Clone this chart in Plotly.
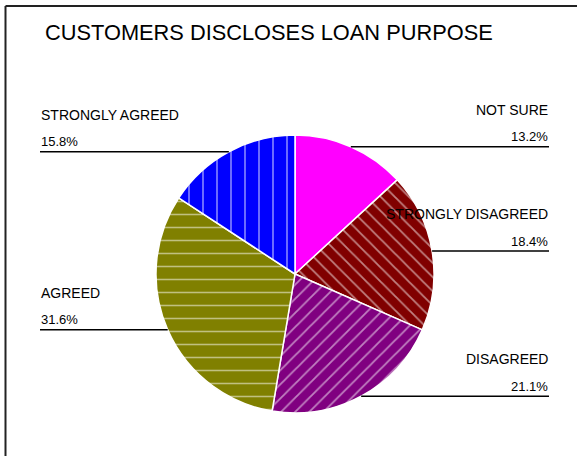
import math
import plotly.graph_objects as go

# Survey responses: customers disclose loan purpose
labels = ["NOT SURE", "STRONGLY DISAGREED", "DISAGREED", "AGREED", "STRONGLY AGREED"]
counts = [5, 7, 8, 12, 6]
colors = ["#FF00FF", "#800000", "#800080", "#808000", "#0000FF"]
patterns = ["", "\\", "/", "-", "|"]
label_side = ["right", "right", "right", "left", "left"]

W, H = 577, 456
FONT = "Liberation Sans, Arial, sans-serif"

# pie geometry in pixels
cx, cy, r = 295, 274, 139
right_edge_px, left_edge_px = 549, 40


def px_x(x):
    return x / W


def px_y(y):
    return 1 - y / H


total = sum(counts)
pcts = [c / total * 100 for c in counts]

fig = go.Figure(go.Pie(
    labels=labels,
    values=counts,
    sort=False,
    direction="clockwise",
    rotation=0,
    textinfo="none",
    hoverinfo="label+percent",
    showlegend=False,
    domain=dict(x=[px_x(cx - r), px_x(cx + r)], y=[px_y(cy + r), px_y(cy - r)]),
    marker=dict(
        colors=colors,
        line=dict(color="white", width=1.5),
        pattern=dict(
            shape=patterns,
            fgcolor="white",
            bgcolor=colors,
            fillmode="overlay",
            size=[10, 10, 10, 13, 14],
            solidity=[0.1, 0.18, 0.18, 0.12, 0.12],
        ),
    ),
))

shapes = []
annotations = []
cum = 0.0
for name, cnt, pct, side in zip(labels, counts, pcts, label_side):
    mid = (cum + cnt / 2) / total * 2 * math.pi
    cum += cnt
    ex = cx + r * math.sin(mid)
    ey = cy - r * math.cos(mid)
    if side == "right":
        x0, x1, tx, anchor = ex, right_edge_px, right_edge_px + 1, "right"
    else:
        x0, x1, tx, anchor = left_edge_px, ex, left_edge_px - 1, "left"
    shapes.append(dict(type="line", xref="paper", yref="paper",
                       x0=px_x(x0), x1=px_x(x1), y0=px_y(ey), y1=px_y(ey),
                       line=dict(color="black", width=1.5)))
    annotations.append(dict(text=name, x=px_x(tx), y=px_y(ey - 37),
                            xref="paper", yref="paper", xanchor=anchor, yanchor="middle",
                            showarrow=False, font=dict(family=FONT, size=14, color="black")))
    annotations.append(dict(text=f"{pct:.1f}%", x=px_x(tx), y=px_y(ey - 10),
                            xref="paper", yref="paper", xanchor=anchor, yanchor="middle",
                            showarrow=False, font=dict(family=FONT, size=13, color="black")))

# chart frame (top and left edges)
shapes.append(dict(type="line", xref="paper", yref="paper",
                   x0=px_x(5.5), x1=px_x(W + 5), y0=px_y(6), y1=px_y(6),
                   line=dict(color="#222222", width=2)))
shapes.append(dict(type="line", xref="paper", yref="paper",
                   x0=px_x(5.5), x1=px_x(5.5), y0=px_y(6), y1=px_y(H + 5),
                   line=dict(color="#222222", width=2)))

annotations.append(dict(text="CUSTOMERS DISCLOSES LOAN PURPOSE", x=px_x(268.5), y=px_y(32),
                        xref="paper", yref="paper", xanchor="center", yanchor="middle",
                        showarrow=False, font=dict(family=FONT, size=21.8, color="black")))

fig.update_layout(
    width=W, height=H,
    margin=dict(l=0, r=0, t=0, b=0),
    paper_bgcolor="white",
    plot_bgcolor="white",
    shapes=shapes,
    annotations=annotations,
)

fig.write_html("out.html")
